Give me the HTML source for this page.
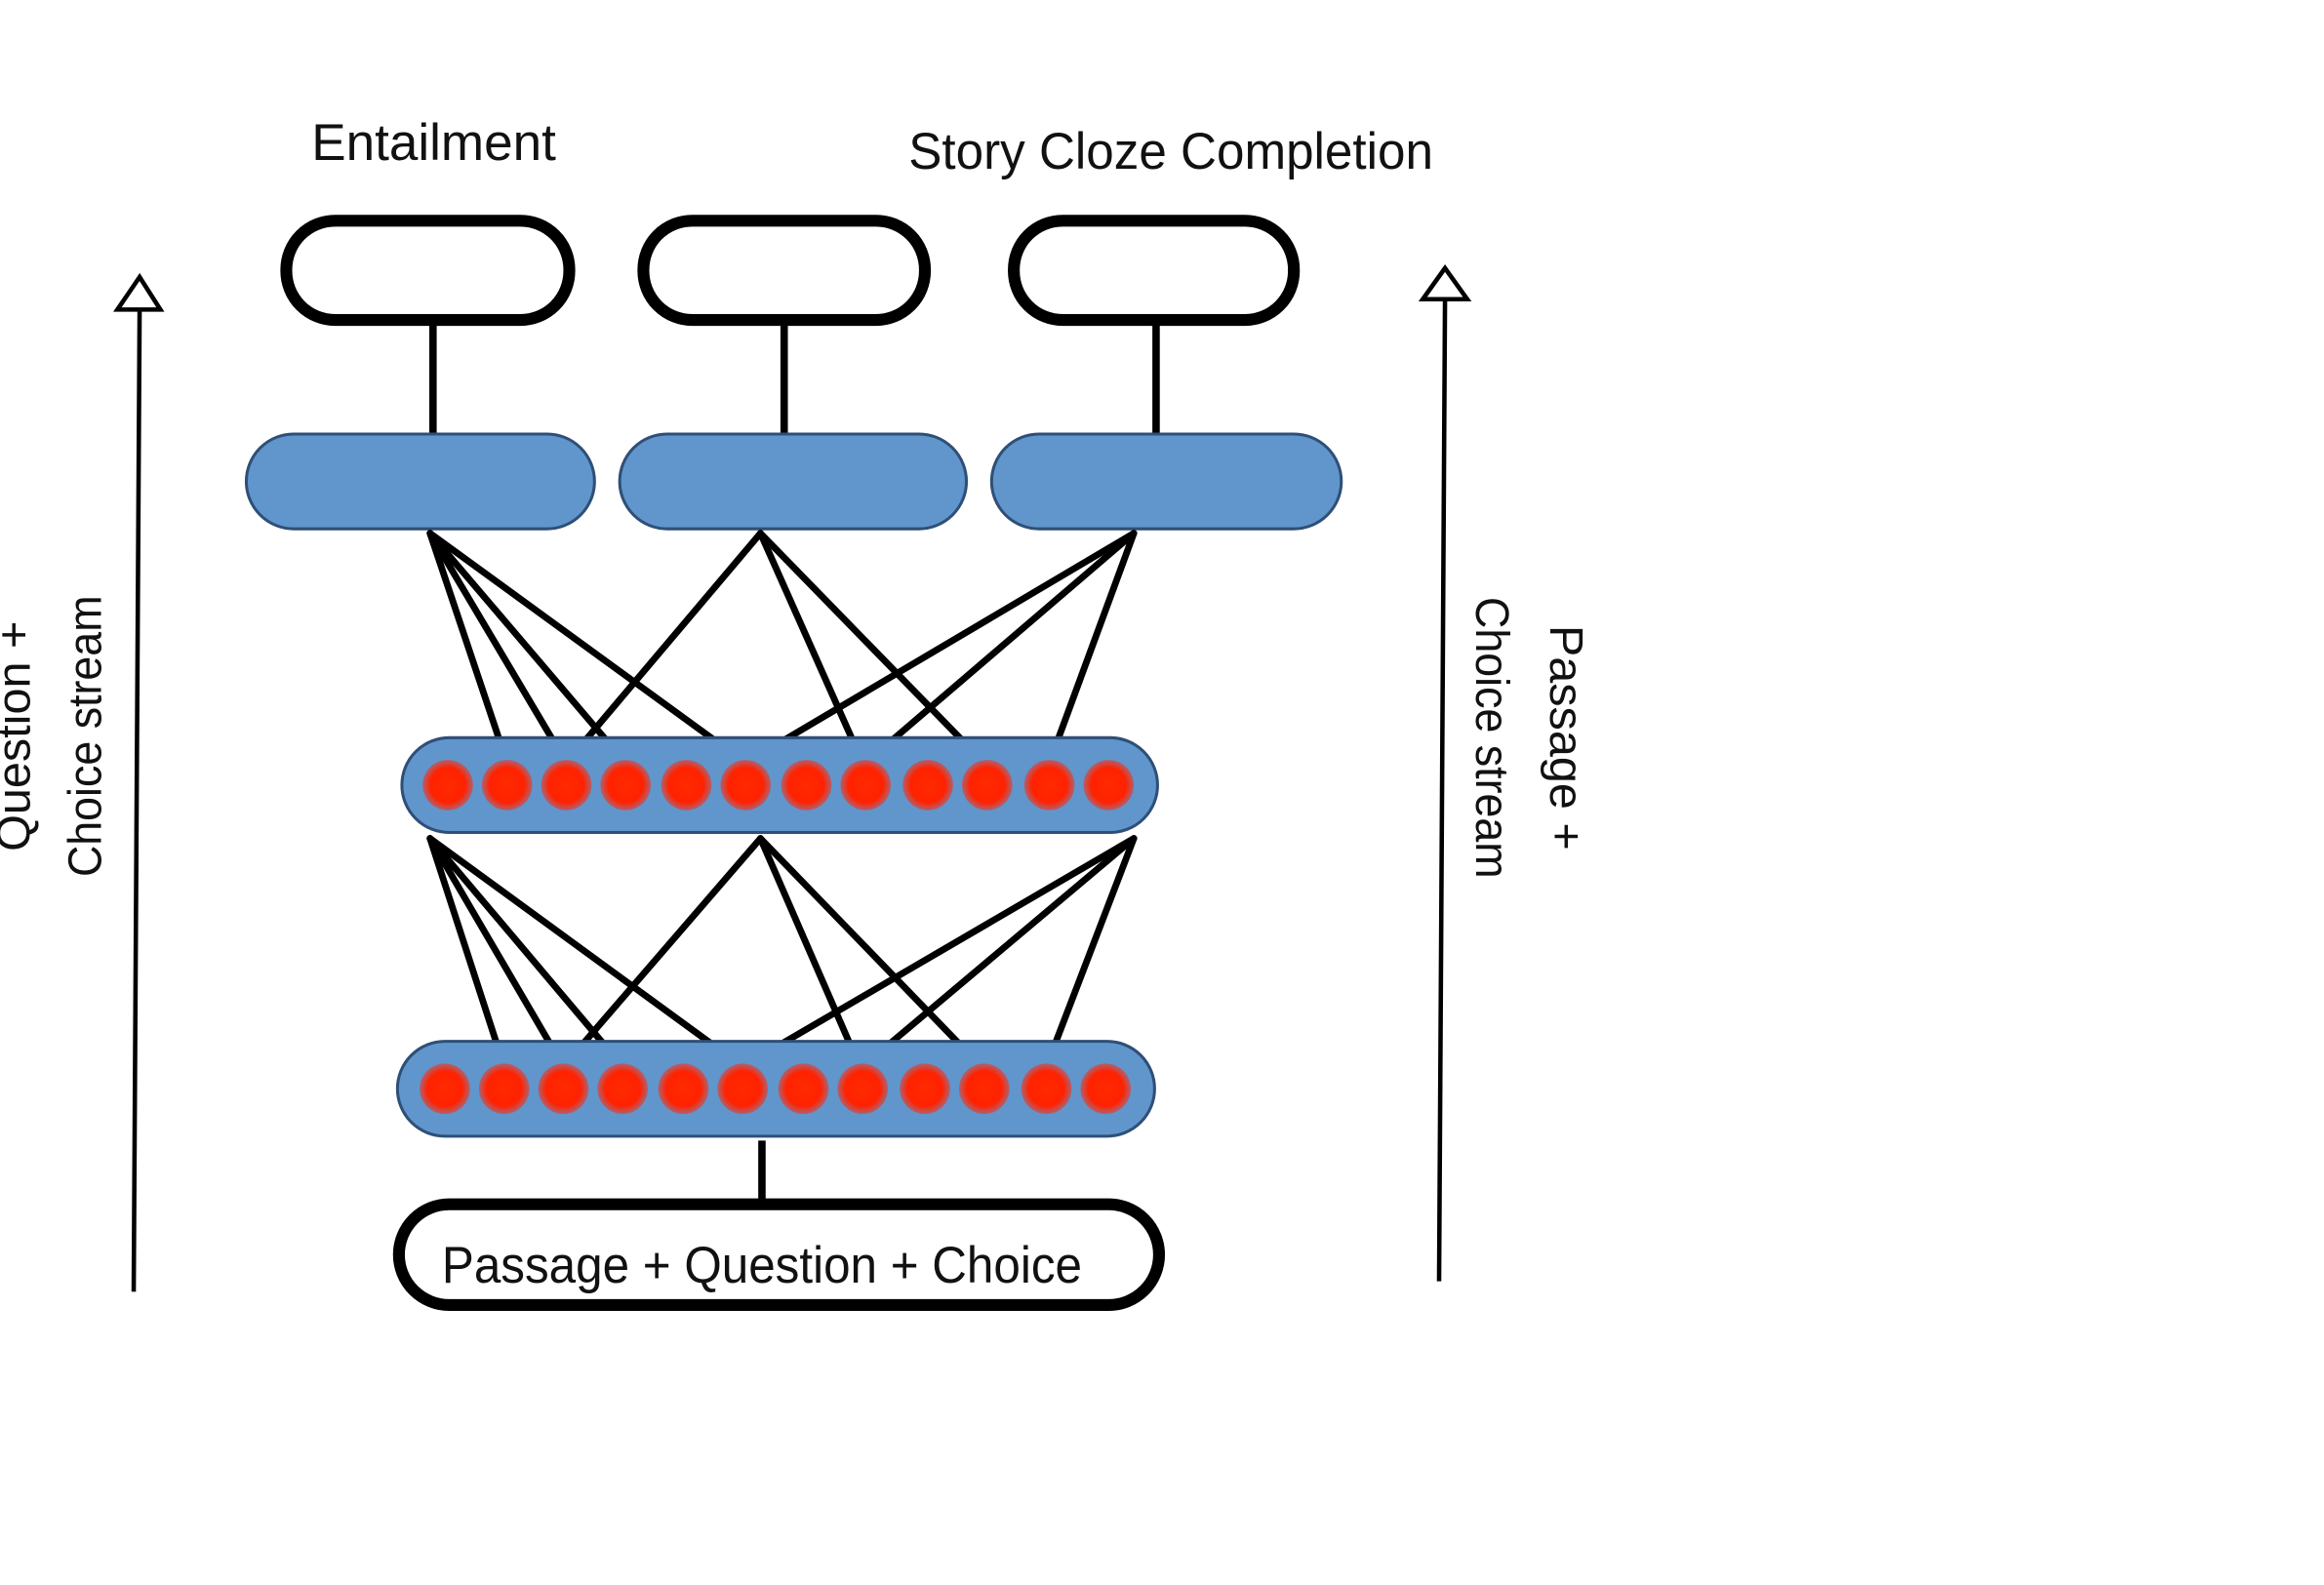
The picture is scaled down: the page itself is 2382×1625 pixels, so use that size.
<!DOCTYPE html>
<html><head><meta charset="utf-8"><style>
html,body{margin:0;padding:0;background:#fff;width:2382px;height:1625px;overflow:hidden}
svg{display:block}
text{font-family:"Liberation Sans",sans-serif;fill:#111}
</style></head><body>
<svg width="2382" height="1625" viewBox="0 0 1568 1070" xmlns="http://www.w3.org/2000/svg">
<defs>
<radialGradient id="dot" cx="50%" cy="50%" r="50%">
<stop offset="0%" stop-color="#ff2a00"/><stop offset="70%" stop-color="#ff2200"/><stop offset="100%" stop-color="#e83a2a" stop-opacity="0.6"/>
</radialGradient>
</defs>
<text x="210" y="108" font-size="35" textLength="165" lengthAdjust="spacingAndGlyphs">Entailment</text>
<text x="613" y="114" font-size="35" textLength="354" lengthAdjust="spacingAndGlyphs">Story Cloze Completion</text>

<g fill="#fff" stroke="#000" stroke-width="8">
<rect x="193" y="149" width="191" height="67" rx="33"/>
<rect x="434" y="149" width="190" height="67" rx="33"/>
<rect x="684" y="149" width="189" height="67" rx="33"/>
</g>
<g stroke="#000" stroke-width="5">
<line x1="292" y1="216" x2="292" y2="293"/>
<line x1="529" y1="216" x2="529" y2="293"/>
<line x1="780" y1="216" x2="780" y2="293"/>
</g>
<g fill="#6096cc" stroke="#2f4f77" stroke-width="2">
<rect x="166" y="293" width="235" height="64" rx="32"/>
<rect x="418" y="293" width="234" height="64" rx="32"/>
<rect x="669" y="293" width="236" height="64" rx="32"/>
</g>

<g stroke="#000" stroke-width="4.5" stroke-linecap="round">
<line x1="290" y1="360" x2="342" y2="515"/>
<line x1="290" y1="360" x2="382" y2="515"/>
<line x1="290" y1="360" x2="422" y2="515"/>
<line x1="290" y1="360" x2="503" y2="515"/>
<line x1="513" y1="360" x2="382" y2="515"/>
<line x1="513" y1="360" x2="582" y2="515"/>
<line x1="513" y1="360" x2="664" y2="515"/>
<line x1="765" y1="360" x2="503" y2="515"/>
<line x1="765" y1="360" x2="584" y2="515"/>
<line x1="765" y1="360" x2="708" y2="515"/>
</g>

<rect x="271" y="498" width="510" height="64" rx="32" fill="#6096cc" stroke="#2f4f77" stroke-width="2"/>
<g fill="url(#dot)">
<circle cx="302" cy="530" r="17"/><circle cx="342" cy="530" r="17"/><circle cx="382" cy="530" r="17"/><circle cx="422" cy="530" r="17"/>
<circle cx="463" cy="530" r="17"/><circle cx="503" cy="530" r="17"/><circle cx="544" cy="530" r="17"/><circle cx="584" cy="530" r="17"/>
<circle cx="626" cy="530" r="17"/><circle cx="666" cy="530" r="17"/><circle cx="708" cy="530" r="17"/><circle cx="748" cy="530" r="17"/>
</g>

<g stroke="#000" stroke-width="4.5" stroke-linecap="round">
<line x1="290" y1="566" x2="340" y2="720"/>
<line x1="290" y1="566" x2="380" y2="720"/>
<line x1="290" y1="566" x2="420" y2="720"/>
<line x1="290" y1="566" x2="501" y2="720"/>
<line x1="513" y1="566" x2="380" y2="720"/>
<line x1="513" y1="566" x2="580" y2="720"/>
<line x1="513" y1="566" x2="662" y2="720"/>
<line x1="765" y1="566" x2="501" y2="720"/>
<line x1="765" y1="566" x2="582" y2="720"/>
<line x1="765" y1="566" x2="706" y2="720"/>
</g>

<rect x="268" y="703" width="511" height="64" rx="32" fill="#6096cc" stroke="#2f4f77" stroke-width="2"/>
<g fill="url(#dot)">
<circle cx="300" cy="735" r="17"/><circle cx="340" cy="735" r="17"/><circle cx="380" cy="735" r="17"/><circle cx="420" cy="735" r="17"/>
<circle cx="461" cy="735" r="17"/><circle cx="501" cy="735" r="17"/><circle cx="542" cy="735" r="17"/><circle cx="582" cy="735" r="17"/>
<circle cx="624" cy="735" r="17"/><circle cx="664" cy="735" r="17"/><circle cx="706" cy="735" r="17"/><circle cx="746" cy="735" r="17"/>
</g>

<line x1="514" y1="770" x2="514" y2="810" stroke="#000" stroke-width="5"/>
<rect x="269" y="813" width="513" height="68" rx="34" fill="#fff" stroke="#000" stroke-width="8"/>
<text x="298" y="866" font-size="35" textLength="432" lengthAdjust="spacingAndGlyphs">Passage + Question + Choice</text>

<g stroke="#000" stroke-width="3" fill="#fff">
<line x1="90" y1="872" x2="94" y2="208"/>
<polygon points="94,187 79,209 108,209"/>
<line x1="971" y1="865" x2="975" y2="202"/>
<polygon points="975,181 960,202 990,202"/>
</g>

<g transform="translate(42,497) rotate(-90)">
<text x="0" y="-22" font-size="32" text-anchor="middle">Question +</text>
<text x="0" y="26" font-size="32" text-anchor="middle" textLength="190" lengthAdjust="spacingAndGlyphs">Choice stream</text>
</g>
<g transform="translate(1020,498) rotate(90)">
<text x="0" y="-26" font-size="32" text-anchor="middle">Passage +</text>
<text x="0" y="24" font-size="32" text-anchor="middle" textLength="190" lengthAdjust="spacingAndGlyphs">Choice stream</text>
</g>
</svg>
</body></html>
